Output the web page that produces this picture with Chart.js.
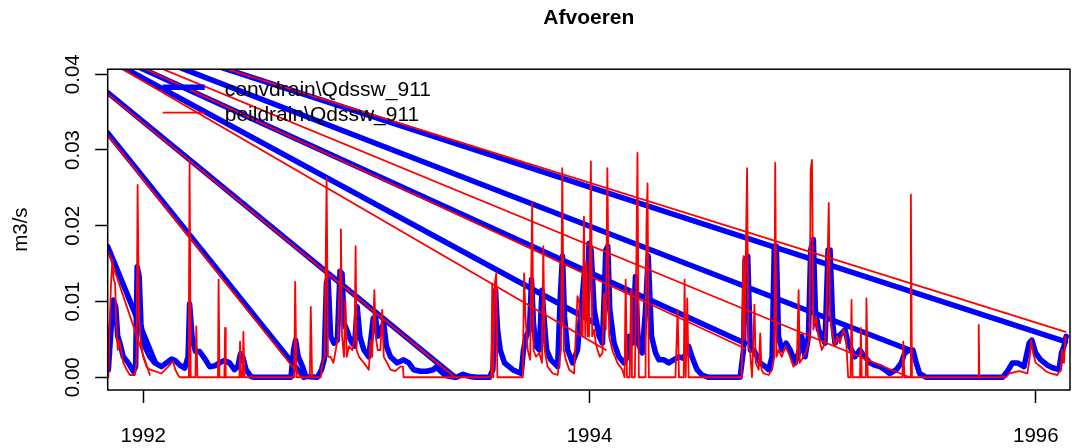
<!DOCTYPE html>
<html>
<head>
<meta charset="utf-8">
<title>Afvoeren</title>
<script src="https://cdn.jsdelivr.net/npm/chart.js@4.4.1/dist/chart.umd.min.js"></script>
<style>
  html, body { margin: 0; padding: 0; background: #ffffff; overflow: hidden; }
  canvas { display: block; }
</style>
</head>
<body>
<canvas id="afvoer-chart" width="1080" height="448"></canvas>
<script>
// tijd in decimale jaren, afvoer in m3/s
var convYears = [
  1991.844, 1991.856, 1991.866, 1991.877, 1991.886, 1991.896, 1991.911, 1991.933, 1991.956, 1991.966,
  1991.973, 1991.982, 1991.990, 1992.000, 1992.015, 1992.030, 1992.052, 1992.082, 1992.104, 1992.127,
  1992.144, 1992.164, 1992.186, 1992.201, 1992.208, 1992.219, 1992.234, 1992.253, 1992.275, 1992.298,
  1992.320, 1992.342, 1992.364, 1992.387, 1992.409, 1992.424, 1992.436, 1992.446, 1992.461, 1992.483,
  1992.498, 1992.662, 1992.674, 1992.683, 1992.695, 1992.714, 1992.729, 1992.781, 1992.799, 1992.811,
  1992.821, 1992.828, 1992.840, 1992.855, 1992.870, 1992.882, 1992.891, 1992.900, 1992.912, 1992.922,
  1992.937, 1992.947, 1992.959, 1992.971, 1992.989, 1993.011, 1993.031, 1993.041, 1993.051, 1993.063,
  1993.078, 1993.090, 1993.108, 1993.138, 1993.167, 1993.190, 1993.212, 1993.242, 1993.270, 1993.300,
  1993.314, 1993.329, 1993.352, 1993.374, 1993.404, 1993.433, 1993.463, 1993.493, 1993.552, 1993.567,
  1993.579, 1993.588, 1993.600, 1993.619, 1993.656, 1993.694, 1993.704, 1993.716, 1993.731, 1993.740,
  1993.749, 1993.760, 1993.775, 1993.787, 1993.798, 1993.808, 1993.827, 1993.857, 1993.869, 1993.879,
  1993.888, 1993.902, 1993.924, 1993.946, 1993.957, 1993.969, 1993.978, 1993.986, 1993.998, 1994.007,
  1994.021, 1994.043, 1994.058, 1994.073, 1994.082, 1994.091, 1994.110, 1994.132, 1994.154, 1994.169,
  1994.177, 1994.192, 1994.206, 1994.218, 1994.236, 1994.251, 1994.263, 1994.278, 1994.296, 1994.311,
  1994.333, 1994.355, 1994.377, 1994.400, 1994.422, 1994.444, 1994.459, 1994.482, 1994.504, 1994.534,
  1994.675, 1994.690, 1994.697, 1994.709, 1994.721, 1994.736, 1994.751, 1994.765, 1994.788, 1994.803,
  1994.818, 1994.828, 1994.837, 1994.847, 1994.862, 1994.881, 1994.899, 1994.922, 1994.941, 1994.951,
  1994.966, 1994.981, 1994.991, 1995.003, 1995.012, 1995.026, 1995.041, 1995.055, 1995.069, 1995.078,
  1995.090, 1995.100, 1995.115, 1995.130, 1995.145, 1995.159, 1995.174, 1995.189, 1995.212, 1995.234,
  1995.256, 1995.278, 1995.301, 1995.323, 1995.345, 1995.375, 1995.397, 1995.412, 1995.435, 1995.449,
  1995.464, 1995.479, 1995.509, 1995.851, 1995.873, 1995.895, 1995.918, 1995.947, 1995.970, 1995.982,
  1995.999, 1996.022, 1996.052, 1996.081, 1996.104, 1996.115, 1996.126, 1996.136
];
var convFlow = [
  0.0010, 0.0063, 0.0102, 0.0093, 0.0054, 0.0045, 0.0027, 0.0019, 0.0008, 0.0014,
  0.0146, 0.0133, 0.0071, 0.0045, 0.0036, 0.0027, 0.0019, 0.0014, 0.0019, 0.0024,
  0.0022, 0.0016, 0.0012, 0.0027, 0.0097, 0.0054, 0.0034, 0.0034, 0.0025, 0.0014,
  0.0015, 0.0019, 0.0022, 0.0019, 0.0010, 0.0014, 0.0031, 0.0027, 0.0010, 0.0001,
  0.0000, 0.0000, 0.0036, 0.0049, 0.0027, 0.0014, 0.0001, 0.0000, 0.0010, 0.0023,
  0.0124, 0.0133, 0.0054, 0.0045, 0.0049, 0.0140, 0.0137, 0.0071, 0.0063, 0.0054,
  0.0045, 0.0041, 0.0093, 0.0054, 0.0036, 0.0027, 0.0078, 0.0080, 0.0054, 0.0063,
  0.0071, 0.0041, 0.0027, 0.0019, 0.0023, 0.0019, 0.0010, 0.0008, 0.0008, 0.0010,
  0.0014, 0.0009, 0.0003, 0.0001, 0.0000, 0.0004, 0.0001, 0.0000, 0.0000, 0.0010,
  0.0115, 0.0063, 0.0036, 0.0019, 0.0010, 0.0005, 0.0036, 0.0054, 0.0063, 0.0129,
  0.0071, 0.0041, 0.0036, 0.0115, 0.0071, 0.0036, 0.0023, 0.0014, 0.0107, 0.0160,
  0.0080, 0.0036, 0.0019, 0.0036, 0.0071, 0.0111, 0.0142, 0.0080, 0.0177, 0.0168,
  0.0089, 0.0054, 0.0045, 0.0168, 0.0173, 0.0089, 0.0045, 0.0027, 0.0019, 0.0027,
  0.0054, 0.0045, 0.0133, 0.0045, 0.0032, 0.0089, 0.0160, 0.0054, 0.0032, 0.0023,
  0.0023, 0.0019, 0.0023, 0.0027, 0.0025, 0.0041, 0.0027, 0.0010, 0.0003, 0.0000,
  0.0000, 0.0036, 0.0155, 0.0160, 0.0036, 0.0036, 0.0027, 0.0019, 0.0014, 0.0010,
  0.0027, 0.0173, 0.0173, 0.0054, 0.0036, 0.0045, 0.0036, 0.0019, 0.0036, 0.0054,
  0.0027, 0.0054, 0.0168, 0.0182, 0.0089, 0.0063, 0.0054, 0.0045, 0.0168, 0.0168,
  0.0071, 0.0045, 0.0054, 0.0058, 0.0063, 0.0045, 0.0036, 0.0027, 0.0036, 0.0027,
  0.0019, 0.0016, 0.0014, 0.0010, 0.0005, 0.0010, 0.0019, 0.0032, 0.0036, 0.0036,
  0.0019, 0.0005, 0.0000, 0.0000, 0.0008, 0.0019, 0.0019, 0.0014, 0.0045, 0.0049,
  0.0032, 0.0023, 0.0016, 0.0012, 0.0010, 0.0032, 0.0041, 0.0054
];

var peilYears = [
  1991.844, 1991.849, 1991.856, 1991.862, 1991.868, 1991.874, 1991.880, 1991.886, 1991.892, 1991.901,
  1991.911, 1991.926, 1991.941, 1991.963, 1991.970, 1991.975, 1991.981, 1991.990, 1992.000, 1992.015,
  1992.030, 1992.052, 1992.082, 1992.112, 1992.127, 1992.134, 1992.144, 1992.156, 1992.164, 1992.201,
  1992.205, 1992.208, 1992.213, 1992.234, 1992.238, 1992.243, 1992.335, 1992.338, 1992.342, 1992.364,
  1992.367, 1992.370, 1992.431, 1992.434, 1992.439, 1992.446, 1992.449, 1992.454, 1992.677, 1992.681,
  1992.687, 1992.747, 1992.751, 1992.757, 1992.796, 1992.803, 1992.813, 1992.822, 1992.828, 1992.840,
  1992.852, 1992.863, 1992.873, 1992.882, 1992.886, 1992.891, 1992.900, 1992.906, 1992.912, 1992.922,
  1992.937, 1992.947, 1992.952, 1992.956, 1992.967, 1992.989, 1993.011, 1993.019, 1993.026, 1993.036,
  1993.042, 1993.051, 1993.063, 1993.071, 1993.078, 1993.093, 1993.108, 1993.130, 1993.152, 1993.164,
  1993.167, 1993.560, 1993.564, 1993.569, 1993.575, 1993.582, 1993.587, 1993.701, 1993.707, 1993.713,
  1993.723, 1993.734, 1993.743, 1993.749, 1993.760, 1993.775, 1993.787, 1993.793, 1993.799, 1993.812,
  1993.835, 1993.857, 1993.872, 1993.878, 1993.885, 1993.894, 1993.909, 1993.931, 1993.946, 1993.954,
  1993.961, 1993.969, 1993.975, 1993.981, 1993.986, 1993.992, 1993.998, 1994.006, 1994.012, 1994.021,
  1994.028, 1994.036, 1994.046, 1994.058, 1994.065, 1994.073, 1994.080, 1994.088, 1994.102, 1994.125,
  1994.147, 1994.157, 1994.162, 1994.168, 1994.180, 1994.186, 1994.190, 1994.203, 1994.209, 1994.215,
  1994.221, 1994.251, 1994.255, 1994.260, 1994.266, 1994.385, 1994.395, 1994.401, 1994.422, 1994.426,
  1994.431, 1994.438, 1994.444, 1994.682, 1994.690, 1994.694, 1994.700, 1994.706, 1994.712, 1994.719,
  1994.728, 1994.733, 1994.739, 1994.745, 1994.758, 1994.765, 1994.771, 1994.780, 1994.803, 1994.818,
  1994.828, 1994.832, 1994.838, 1994.847, 1994.862, 1994.877, 1994.892, 1994.914, 1994.929, 1994.937,
  1994.942, 1994.959, 1994.974, 1994.986, 1994.991, 1994.997, 1995.003, 1995.015, 1995.026, 1995.041,
  1995.055, 1995.063, 1995.072, 1995.078, 1995.090, 1995.100, 1995.110, 1995.122, 1995.137, 1995.149,
  1995.159, 1995.170, 1995.174, 1995.179, 1995.212, 1995.216, 1995.220, 1995.238, 1995.241, 1995.247,
  1995.402, 1995.406, 1995.411, 1995.437, 1995.440, 1995.445, 1995.741, 1995.744, 1995.747, 1995.866,
  1995.881, 1995.925, 1995.962, 1995.973, 1995.979, 1995.988, 1995.999, 1996.022, 1996.044, 1996.066,
  1996.096, 1996.111, 1996.118, 1996.126, 1996.133
];
var peilFlow = [
  0.0000, 0.0063, 0.0124, 0.0155, 0.0129, 0.0124, 0.0071, 0.0036, 0.0049, 0.0036,
  0.0019, 0.0010, 0.0003, 0.0003, 0.0019, 0.0254, 0.0080, 0.0045, 0.0027, 0.0014,
  0.0010, 0.0008, 0.0005, 0.0014, 0.0019, 0.0021, 0.0010, 0.0003, 0.0000, 0.0000,
  0.0098, 0.0283, 0.0000, 0.0000, 0.0067, 0.0000, 0.0000, 0.0129, 0.0000, 0.0000,
  0.0065, 0.0000, 0.0000, 0.0047, 0.0000, 0.0000, 0.0060, 0.0000, 0.0000, 0.0126,
  0.0000, 0.0000, 0.0093, 0.0000, 0.0000, 0.0019, 0.0027, 0.0263, 0.0027, 0.0027,
  0.0019, 0.0036, 0.0054, 0.0142, 0.0195, 0.0054, 0.0027, 0.0102, 0.0027, 0.0041,
  0.0036, 0.0049, 0.0173, 0.0036, 0.0027, 0.0019, 0.0010, 0.0049, 0.0027, 0.0115,
  0.0054, 0.0036, 0.0036, 0.0089, 0.0027, 0.0019, 0.0010, 0.0008, 0.0014, 0.0014,
  0.0000, 0.0000, 0.0124, 0.0000, 0.0122, 0.0137, 0.0000, 0.0000, 0.0137, 0.0080,
  0.0036, 0.0023, 0.0230, 0.0036, 0.0027, 0.0032, 0.0019, 0.0173, 0.0036, 0.0014,
  0.0005, 0.0003, 0.0036, 0.0276, 0.0036, 0.0023, 0.0010, 0.0005, 0.0107, 0.0098,
  0.0063, 0.0054, 0.0212, 0.0054, 0.0151, 0.0054, 0.0054, 0.0285, 0.0054, 0.0063,
  0.0045, 0.0036, 0.0027, 0.0032, 0.0111, 0.0063, 0.0276, 0.0054, 0.0036, 0.0019,
  0.0010, 0.0000, 0.0129, 0.0000, 0.0000, 0.0115, 0.0000, 0.0000, 0.0131, 0.0296,
  0.0000, 0.0000, 0.0199, 0.0256, 0.0000, 0.0000, 0.0089, 0.0000, 0.0000, 0.0129,
  0.0000, 0.0104, 0.0000, 0.0000, 0.0160, 0.0050, 0.0150, 0.0276, 0.0040, 0.0036,
  0.0000, 0.0036, 0.0096, 0.0019, 0.0010, 0.0058, 0.0010, 0.0005, 0.0003, 0.0010,
  0.0027, 0.0283, 0.0027, 0.0036, 0.0027, 0.0041, 0.0032, 0.0014, 0.0019, 0.0115,
  0.0019, 0.0027, 0.0036, 0.0054, 0.0274, 0.0287, 0.0063, 0.0080, 0.0054, 0.0036,
  0.0045, 0.0093, 0.0230, 0.0080, 0.0054, 0.0041, 0.0054, 0.0045, 0.0063, 0.0054,
  0.0000, 0.0000, 0.0102, 0.0000, 0.0000, 0.0065, 0.0000, 0.0000, 0.0104, 0.0000,
  0.0000, 0.0047, 0.0000, 0.0000, 0.0241, 0.0000, 0.0000, 0.0069, 0.0000, 0.0000,
  0.0005, 0.0008, 0.0005, 0.0027, 0.0049, 0.0032, 0.0019, 0.0014, 0.0008, 0.0005,
  0.0003, 0.0010, 0.0036, 0.0019, 0.0054
];

// terugsprongen in de reeksen: [van jaar, van afvoer, naar jaar, naar afvoer]
var convJumps = [
  [1991.841, 0.01724, 1992.053, 0.0020],
  [1991.841, 0.03225, 1992.720, 0.0000],
  [1991.841, 0.03758, 1993.398, 0.0000],
  [1991.841, 0.04200, 1994.028, 0.0071],
  [1991.841, 0.04280, 1994.697, 0.0045],
  [1991.841, 0.04456, 1995.434, 0.0036],
  [1991.841, 0.04576, 1996.133, 0.0047]
];
var peilJumps = [
  [1991.841, 0.01680, 1992.030, 0.0003],
  [1991.841, 0.03200, 1992.707, 0.0000],
  [1991.841, 0.03740, 1993.396, 0.0000],
  [1991.841, 0.04180, 1994.073, 0.0036],
  [1991.841, 0.04300, 1994.697, 0.0038],
  [1991.841, 0.04367, 1995.434, 0.0000],
  [1991.841, 0.04560, 1996.133, 0.0060]
];

var seriesLabels = ["convdrain\\Qdssw_911", "peildrain\\Qdssw_911"];
var xTicks = [1992, 1994, 1996];
var yTicks = [0, 0.01, 0.02, 0.03, 0.04];

var xMin = 1991.841, xMax = 1996.153;
var yMin = -0.00168, yMax = 0.04066;

var blueWidth = 5.5, redWidth = 1.8;

function toPoints(xs, ys) {
  var pts = [];
  for (var i = 0; i < xs.length; i++) pts.push({ x: xs[i], y: ys[i] });
  return pts;
}

function jumpPoints(jumps) {
  var pts = [];
  jumps.forEach(function (j) {
    pts.push({ x: j[0], y: j[1] });
    pts.push({ x: j[2], y: j[3] });
    pts.push({ x: j[2], y: null });
  });
  return pts;
}

function lineSet(label, data, color, width) {
  return {
    label: label,
    data: data,
    borderColor: color,
    backgroundColor: color,
    borderWidth: width,
    pointRadius: 0,
    fill: false,
    tension: 0,
    spanGaps: false,
    clip: 0,
    borderJoinStyle: 'round',
    borderCapStyle: 'round'
  };
}

// kader rond het plotvlak en legenda linksboven
var frameAndLegend = {
  id: 'frameAndLegend',
  afterDraw: function (chart) {
    var c = chart.ctx, a = chart.chartArea;
    c.save();
    c.strokeStyle = '#000000';
    c.lineWidth = 1.5;
    c.strokeRect(a.left, a.top, a.right - a.left, a.bottom - a.top);

    var colors = ['#0000ff', '#ff0000'];
    var widths = [blueWidth, redWidth];
    c.font = "21px 'Liberation Sans', Arial, sans-serif";
    c.fillStyle = '#000000';
    c.textBaseline = 'alphabetic';
    c.textAlign = 'left';
    for (var i = 0; i < seriesLabels.length; i++) {
      var yLine = a.top + 18 + i * 25.5;
      c.beginPath();
      c.strokeStyle = colors[i];
      c.lineWidth = widths[i];
      c.lineCap = 'butt';
      c.moveTo(a.left + 55, yLine);
      c.lineTo(a.left + 97, yLine);
      c.stroke();
      c.fillText(seriesLabels[i], a.left + 117, a.top + 27 + i * 25.2);
    }
    c.restore();
  }
};

Chart.defaults.font.family = "'Liberation Sans', Arial, sans-serif";
Chart.defaults.color = '#000000';

var afvoerChart = new Chart(document.getElementById('afvoer-chart'), {
  type: 'line',
  data: {
    datasets: [
      lineSet(seriesLabels[1], toPoints(peilYears, peilFlow), '#ff0000', redWidth),
      lineSet(seriesLabels[1], jumpPoints(peilJumps), '#ff0000', redWidth),
      lineSet(seriesLabels[0], toPoints(convYears, convFlow), '#0000ff', blueWidth),
      lineSet(seriesLabels[0], jumpPoints(convJumps), '#0000ff', blueWidth)
    ]
  },
  options: {
    responsive: false,
    animation: false,
    events: [],
    layout: { padding: { left: 0, right: 5.7, top: 0, bottom: 0 } },
    plugins: {
      legend: { display: false },
      tooltip: { enabled: false },
      title: {
        display: true,
        text: 'Afvoeren',
        fullSize: false,
        color: '#000000',
        font: { size: 21, weight: 'bold' },
        padding: { top: 6, bottom: 38 }
      }
    },
    scales: {
      x: {
        type: 'linear',
        min: xMin,
        max: xMax,
        afterBuildTicks: function (s) {
          s.ticks = xTicks.map(function (v) { return { value: v }; });
        },
        afterFit: function (s) { s.height = 58; },
        ticks: {
          maxRotation: 0,
          padding: 21,
          font: { size: 20.5 },
          callback: function (v) { return String(v); }
        },
        grid: { drawOnChartArea: false, tickLength: 13, tickColor: '#000000', tickWidth: 1.5 },
        border: { display: false }
      },
      y: {
        type: 'linear',
        min: yMin,
        max: yMax,
        afterBuildTicks: function (s) {
          s.ticks = yTicks.map(function (v) { return { value: v }; });
        },
        afterFit: function (s) { s.width = 107.7; },
        ticks: {
          minRotation: 90,
          maxRotation: 90,
          crossAlign: 'center',
          padding: 2,
          font: { size: 20.5 },
          callback: function (v) { return v.toFixed(2); }
        },
        grid: { drawOnChartArea: false, tickLength: 12.5, tickColor: '#000000', tickWidth: 1.5 },
        border: { display: false },
        title: {
          display: true,
          text: 'm3/s',
          font: { size: 20.5 },
          padding: { top: 9, bottom: 0 }
        }
      }
    }
  },
  plugins: [frameAndLegend]
});
</script>
</body>
</html>
